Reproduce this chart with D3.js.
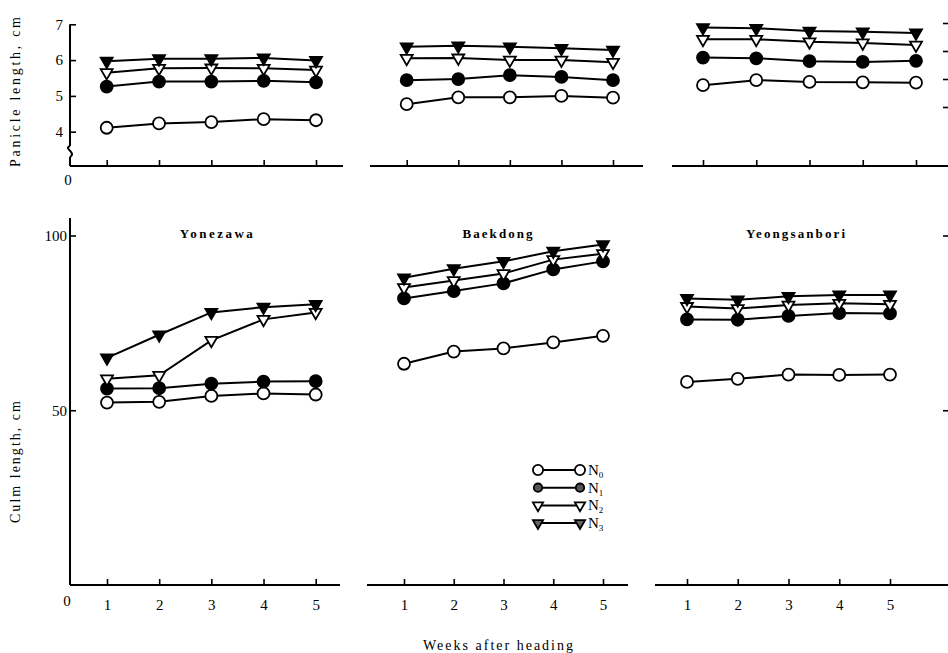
<!DOCTYPE html><html>
<head>
<meta charset="utf-8">
<title>Panicle and culm length</title>
<style>
  body { margin: 0; background: #fff; }
  svg, .axis { font-family: "Liberation Serif", "DejaVu Serif", serif; }
  .axis line { stroke: #000; stroke-width: 1.6; }
  .axis text { font-size: 15px; fill: #000; }
  .frame { stroke: #000; stroke-width: 2; fill: none; }
  .series { fill: none; stroke: #000; stroke-width: 2; }
</style>
</head><body>
<svg width="948" height="653"></svg>

<script src="https://cdn.jsdelivr.net/npm/d3@7"></script>
<script>
// ---- data (rows: N0, N1, N2, N3; columns: weeks 1..5) ----
const weeks = [1, 2, 3, 4, 5];
const levels = ['N0', 'N1', 'N2', 'N3'];
const cultivars = ['Yonezawa', 'Baekdong', 'Yeongsanbori'];

// panicle length, cm
const panicleYonezawa = [
  [4.11, 4.23, 4.27, 4.35, 4.32],
  [5.26, 5.40, 5.40, 5.42, 5.38],
  [5.65, 5.77, 5.78, 5.77, 5.72],
  [5.97, 6.04, 6.04, 6.06, 5.99]
];
const panicleBaekdong = [
  [4.77, 4.96, 4.96, 5.00, 4.95],
  [5.44, 5.47, 5.58, 5.53, 5.44],
  [6.05, 6.06, 6.00, 6.00, 5.94],
  [6.37, 6.40, 6.37, 6.33, 6.28]
];
const panicleYeongsanbori = [
  [5.30, 5.44, 5.39, 5.38, 5.37],
  [6.07, 6.05, 5.97, 5.95, 5.98],
  [6.58, 6.58, 6.51, 6.48, 6.42],
  [6.91, 6.89, 6.81, 6.79, 6.76]
];

// culm length, cm
const culmYonezawa = [
  [52.2, 52.4, 54.1, 54.8, 54.5],
  [56.2, 56.3, 57.6, 58.2, 58.3],
  [59.0, 60.0, 70.0, 76.0, 78.0],
  [65.0, 71.6, 78.0, 79.5, 80.3]
];
const culmBaekdong = [
  [63.3, 66.8, 67.7, 69.4, 71.3],
  [82.0, 84.1, 86.3, 90.3, 92.6],
  [85.1, 87.1, 89.1, 93.1, 94.8],
  [87.9, 90.5, 92.6, 95.5, 97.4]
];
const culmYeongsanbori = [
  [58.1, 59.0, 60.2, 60.1, 60.2],
  [76.0, 75.9, 77.0, 77.8, 77.7],
  [79.7, 79.1, 80.1, 80.6, 80.3],
  [82.0, 81.6, 82.6, 83.0, 83.0]
];

const panicleTicks = [4, 5, 6, 7];
const culmTicks = [50, 100];

// ---- layout ----
const svg = d3.select('svg');

const yP = d3.scaleLinear().domain([4, 7]).range([131.7, 24.3]);
const yC = d3.scaleLinear().domain([0, 100]).range([585, 235.5]);
const topAxisY = 166, botAxisY = 585, leftX = 70;

// week-1 / week-5 positions and axis extent per panel (the scan is slightly skewed)
const topPanels = [
  {x1: 106.7, x5: 316, from: 70,  to: 343, data: panicleYonezawa},
  {x1: 406.7, x5: 613, from: 370, to: 643, data: panicleBaekdong},
  {x1: 703,   x5: 916, from: 672, to: 948, data: panicleYeongsanbori}
];
const botPanels = [
  {x1: 107, x5: 315.7, from: 70,  to: 340, data: culmYonezawa},
  {x1: 404, x5: 603,   from: 367, to: 628, data: culmBaekdong},
  {x1: 687, x5: 890,   from: 655, to: 948, data: culmYeongsanbori}
];

const symbols = {
  N0: {type: d3.symbolCircle,   fill: '#fff', area: Math.PI * 36},
  N1: {type: d3.symbolCircle,   fill: '#000', area: Math.PI * 36},
  N2: {type: d3.symbolTriangle, fill: '#fff', area: 62, flip: true},
  N3: {type: d3.symbolTriangle, fill: '#000', area: 62, flip: true}
};

function drawMarker(g, lev, x, y, scale, fill) {
  const s = symbols[lev];
  g.append('path')
    .attr('d', d3.symbol().type(s.type).size(s.area * scale * scale)())
    .attr('transform', 'translate(' + x + ',' + y + ')' + (s.flip ? ' rotate(180)' : ''))
    .attr('fill', fill || s.fill)
    .attr('stroke', '#000')
    .attr('stroke-width', 1.8);
}

function drawPanel(p, y, axisY, labelled) {
  const x = d3.scaleLinear().domain([1, 5]).range([p.x1, p.x5]);
  const g = svg.append('g');

  // x axis line + inward ticks
  g.append('line').attr('class', 'frame')
    .attr('x1', p.from).attr('x2', p.to).attr('y1', axisY).attr('y2', axisY);
  const ax = g.append('g').attr('class', 'axis')
    .attr('transform', 'translate(0,' + axisY + ')')
    .call(d3.axisBottom(x).tickValues(weeks).tickSize(-6).tickPadding(labelled ? 14 : 0)
      .tickFormat(labelled ? d3.format('d') : ''));
  ax.select('.domain').remove();

  const line = d3.line().x((d, i) => x(weeks[i])).y(d => y(d));
  p.data.forEach(row => g.append('path').attr('class', 'series').attr('d', line(row)));
  p.data.forEach((row, k) => row.forEach((v, i) => drawMarker(g, levels[k], x(weeks[i]), y(v), 1)));
  return x;
}

topPanels.forEach(p => drawPanel(p, yP, topAxisY, false));
const botX = botPanels.map(p => drawPanel(p, yC, botAxisY, true));

// ---- y axes ----
const yPAxis = svg.append('g').attr('class', 'axis')
  .attr('transform', 'translate(' + leftX + ',0)')
  .call(d3.axisLeft(yP).tickValues(panicleTicks).tickSize(-6).tickPadding(7).tickFormat(d3.format('d')));
yPAxis.select('.domain').remove();
svg.append('line').attr('class', 'frame')
  .attr('x1', leftX).attr('x2', leftX).attr('y1', yP(7)).attr('y2', 146);
svg.append('path').attr('class', 'frame')
  .attr('d', 'M' + leftX + ',146 C' + (leftX - 7) + ',149 ' + (leftX + 7) + ',152 ' + leftX + ',157');
svg.append('line').attr('class', 'frame')
  .attr('x1', leftX).attr('x2', leftX).attr('y1', 157).attr('y2', topAxisY);

const yCAxis = svg.append('g').attr('class', 'axis')
  .attr('transform', 'translate(' + leftX + ',0)')
  .call(d3.axisLeft(yC).tickValues(culmTicks).tickSize(-6).tickPadding(3).tickFormat(d3.format('d')));
yCAxis.select('.domain').remove();
svg.append('line').attr('class', 'frame')
  .attr('x1', leftX).attr('x2', leftX).attr('y1', 218).attr('y2', botAxisY);

// neighbouring figure's tick stubs at the right edge
const yStub = d3.scaleLinear().domain([4, 7]).range([107, 23]);
[[yStub, panicleTicks], [yC, culmTicks]].forEach(([s, t]) => {
  const a = svg.append('g').attr('class', 'axis').attr('transform', 'translate(948,0)')
    .call(d3.axisLeft(s).tickValues(t).tickSize(5).tickFormat(''));
  a.select('.domain').remove();
});

// zero labels
svg.append('text').attr('x', 68).attr('y', 185).attr('text-anchor', 'middle')
  .style('font-size', '15px').text('0');
svg.append('text').attr('x', 67).attr('y', 606).attr('text-anchor', 'middle')
  .style('font-size', '15px').text('0');

// axis titles
svg.append('text').attr('transform', 'translate(20,92) rotate(-90)')
  .attr('text-anchor', 'middle').style('font-size', '14px')
  .attr('textLength', 150).attr('lengthAdjust', 'spacing').text('Panicle length, cm');
svg.append('text').attr('transform', 'translate(20,462) rotate(-90)')
  .attr('text-anchor', 'middle').style('font-size', '14px')
  .attr('textLength', 122).attr('lengthAdjust', 'spacing').text('Culm length, cm');
svg.append('text').attr('x', 498).attr('y', 650).attr('text-anchor', 'middle')
  .style('font-size', '14px').attr('textLength', 150).attr('lengthAdjust', 'spacing')
  .text('Weeks after heading');

// cultivar titles
const titleWidths = [73, 70, 99];
cultivars.forEach((c, i) => {
  svg.append('text').attr('x', botX[i](3) + [5, -6, 7][i]).attr('y', 238)
    .attr('text-anchor', 'middle').style('font-size', '13px').style('font-weight', '600')
    .attr('textLength', titleWidths[i]).attr('lengthAdjust', 'spacing').text(c);
});

// legend
const legX = 538, legY = 470, legGap = 17.7, legLen = 42;
const legFill = ['#fff', '#555', '#fff', '#666'];
levels.forEach((lev, k) => {
  const yy = legY + k * legGap;
  const g = svg.append('g');
  g.append('line').attr('class', 'series').attr('x1', legX).attr('x2', legX + legLen)
    .attr('y1', yy).attr('y2', yy);
  drawMarker(g, lev, legX, yy, k === 1 ? 0.7 : 0.85, legFill[k]);
  drawMarker(g, lev, legX + legLen, yy, k === 1 ? 0.7 : 0.85, legFill[k]);
  const t = g.append('text').attr('x', legX + 50).attr('y', yy + 5).style('font-size', '15px');
  t.append('tspan').text('N');
  t.append('tspan').attr('dy', 3).style('font-size', '9px').text(lev.slice(1));
});
</script>
</body></html>
